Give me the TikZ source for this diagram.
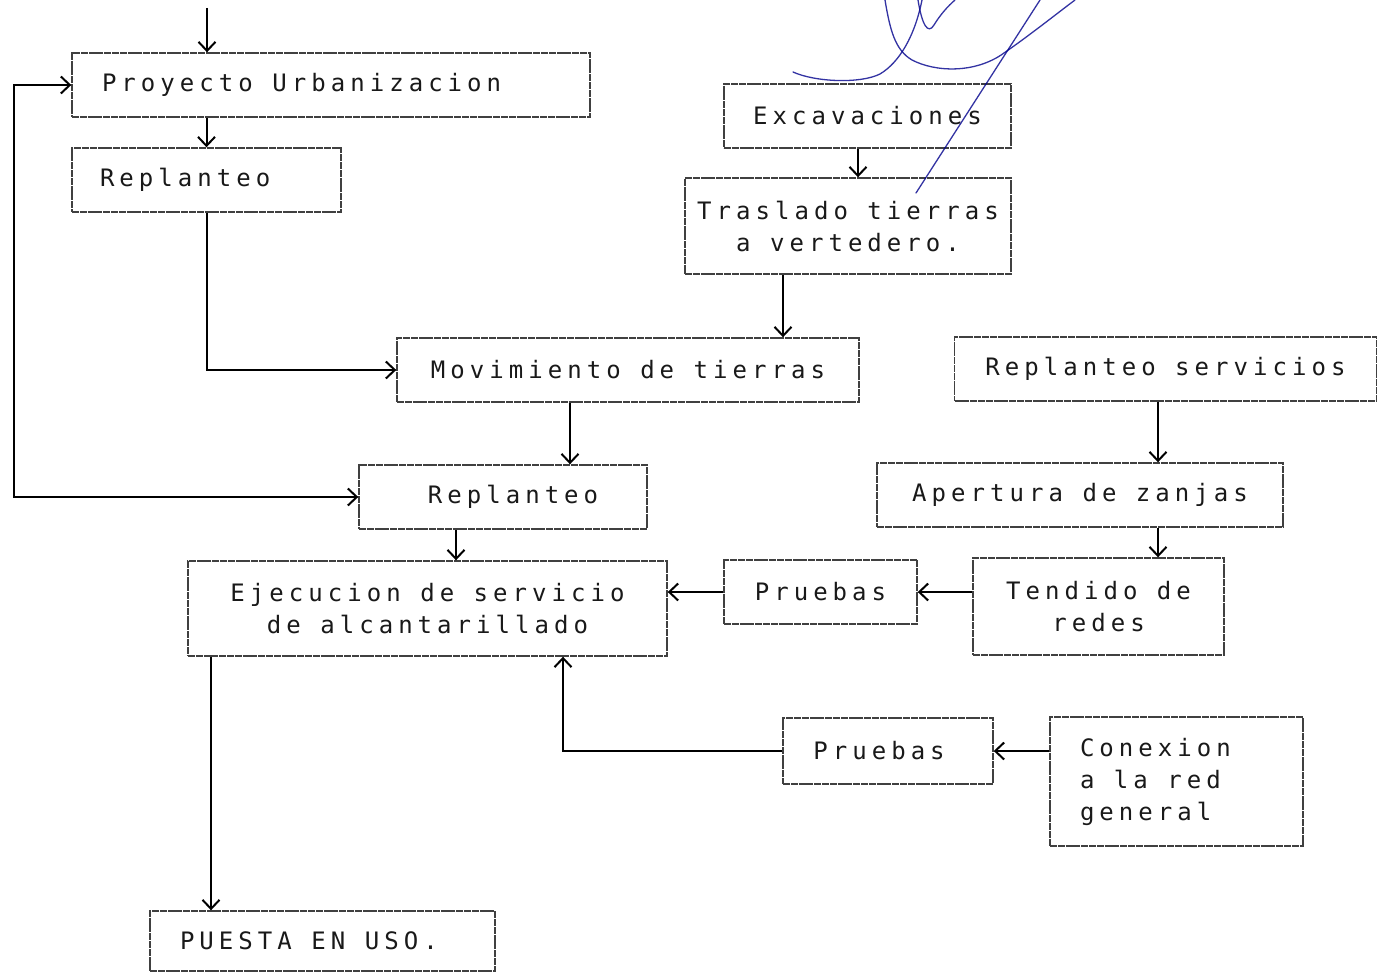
\documentclass[tikz,border=0pt]{standalone}
\usepackage{fontspec}
\newfontfamily\dotfont[LetterSpace=21]{DejaVu Sans Mono}
\usetikzlibrary{arrows.meta}
\newcommand\lft[2]{\makebox[#1][l]{#2}}
\begin{document}
\begin{tikzpicture}[x=1pt,y=-1pt,
  box/.style={draw=black!75, line width=1.4pt, dash pattern=on 7pt off 0.8pt, rectangle, inner sep=0pt,
    font=\dotfont\fontsize{24}{32}\selectfont, text=black!90, align=center},
  conn/.style={draw=black, line width=2pt, -{Straight Barb[length=9pt,width=17pt]}},
  sig/.style={draw=blue!55!black, line width=1.3pt, opacity=0.8, line cap=round}]
\useasboundingbox (0,0) rectangle (1378,974);
\fill[white] (0,0) rectangle (1378,974);

% boxes
\node[box, minimum width=518, minimum height=64] (p) at (331,85) {\lft{458pt}{Proyecto Urbanizacion}};
\node[box, minimum width=269, minimum height=64] (r1) at (206.5,180) {\lft{213pt}{Replanteo}};
\node[box, minimum width=287, minimum height=64] (e) at (867.5,116) {Excavaciones};
\node[box, minimum width=326, minimum height=96] (t) at (848,226) {Traslado tierras\\a vertedero.};
\node[box, minimum width=462, minimum height=64] (m) at (628,370) {Movimiento de tierras};
\node[box, minimum width=422, minimum height=64] (rs) at (1165.5,369) {Replanteo servicios};
\node[box, minimum width=288, minimum height=64] (r2) at (503,497) {\hspace*{20pt}Replanteo};
\node[box, minimum width=406, minimum height=64] (a) at (1080,495) {Apertura de zanjas};
\node[box, minimum width=479, minimum height=95] (ej) at (427.5,608.5) {Ejecucion de servicio\\de alcantarillado};
\node[box, minimum width=193, minimum height=64] (pr1) at (820.5,592) {Pruebas};
\node[box, minimum width=251, minimum height=97] (td) at (1098.5,606.5) {Tendido de\\redes};
\node[box, minimum width=210, minimum height=66] (pr2) at (888,751) {\hspace*{-18pt}Pruebas};
\node[box, minimum width=253, minimum height=129] (c) at (1176.5,781.5) {\lft{193pt}{Conexion}\\\lft{193pt}{a la red}\\\lft{193pt}{general}};
\node[box, minimum width=345, minimum height=60] (pu) at (322.5,941) {\lft{285pt}{PUESTA EN USO.}};

% connectors
\coordinate (top) at (207,8);
\coordinate (lc) at (14,300);
\draw[conn] (top) -- (top |- p.north);
\draw[conn] (r1.north |- p.south) -- (r1.north);
\draw[conn, {Straight Barb[length=9pt,width=17pt]}-{Straight Barb[length=9pt,width=17pt]}] (p.west) -| (lc) |- (r2.west);
\draw[conn] (r1.south) |- (m.west);
\draw[conn] ([xshift=-9.5pt]e.south) -- ([xshift=-9.5pt]e.south |- t.north);
\draw[conn] ([xshift=-65pt]t.south) -- ([xshift=-65pt]t.south |- m.north);
\draw[conn] ([xshift=-58pt]m.south) -- ([xshift=-58pt]m.south |- r2.north);
\draw[conn] ([xshift=-47pt]r2.south) -- ([xshift=-47pt]r2.south |- ej.north);
\draw[conn] ([xshift=-7.5pt]rs.south) -- ([xshift=-7.5pt]rs.south |- a.north);
\draw[conn] ([xshift=78pt]a.south) -- ([xshift=78pt]a.south |- td.north);
\draw[conn] (pr1.east -| td.west) -- (pr1.east);
\draw[conn] (pr1.west) -- (pr1.west -| ej.east);
\draw[conn] (pr2.east -| c.west) -- (pr2.east);
\draw[conn] (pr2.west) -| ([xshift=135.5pt]ej.south);
\draw[conn] ([xshift=-216.5pt]ej.south) -- ([xshift=-216.5pt]ej.south |- pu.north);

% signature strokes
\draw[sig] (793,72) .. controls (815,82) and (860,84) .. (880,74) .. controls (900,62) and (915,35) .. (922,0);
\draw[sig] (885,0) .. controls (890,30) and (895,50) .. (912,60) .. controls (935,72) and (975,74) .. (1004,53) .. controls (1030,35) and (1055,15) .. (1075,0);
\draw[sig] (918,0) .. controls (922,25) and (928,35) .. (934,25) .. controls (940,15) and (948,6) .. (955,0);
\draw[sig] (1040,0) -- (916,193);
\end{tikzpicture}
\end{document}
